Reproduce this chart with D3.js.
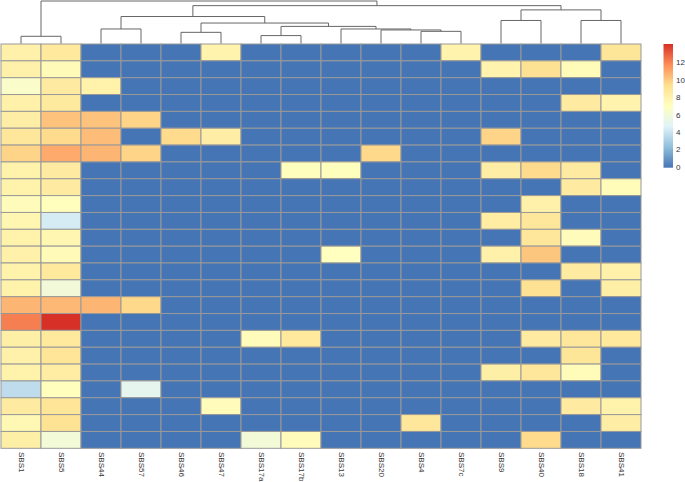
<!DOCTYPE html>
<html>
<head>
<meta charset="utf-8">
<script src="https://cdn.jsdelivr.net/npm/d3@7"></script>
<style>
  body { margin: 0; background: #fff; }
  text { font-family: "Liberation Sans", Arial, sans-serif; }
</style>
</head>
<body>
<svg id="chart" width="685" height="482"></svg>
<script>
// column order as drawn (after clustering)
var signatures = ["SBS1", "SBS5", "SBS44", "SBS57", "SBS46", "SBS47", "SBS17a", "SBS17b",
                  "SBS13", "SBS20", "SBS4", "SBS7c", "SBS9", "SBS40", "SBS18", "SBS41"]

// one row per sample, values in signature order
var rowValues = [
  [8.2, 8.8, 0, 0, 0, 8.0, 0, 0, 0, 0, 0, 8.0, 0, 0, 0, 9.0],
  [8.2, 7.5, 0, 0, 0, 0, 0, 0, 0, 0, 0, 0, 8.0, 9.3, 7.4, 0],
  [6.7, 8.6, 8.1, 0, 0, 0, 0, 0, 0, 0, 0, 0, 0, 0, 0, 0],
  [8.2, 8.7, 0, 0, 0, 0, 0, 0, 0, 0, 0, 0, 0, 0, 8.6, 8.0],
  [8.4, 10.3, 10.3, 9.8, 0, 0, 0, 0, 0, 0, 0, 0, 0, 0, 0, 0],
  [8.9, 9.6, 10.5, 0, 9.6, 8.4, 0, 0, 0, 0, 0, 0, 9.8, 0, 0, 0],
  [9.8, 11.0, 10.7, 9.8, 0, 0, 0, 0, 0, 9.7, 0, 0, 0, 0, 0, 0],
  [8.1, 8.6, 0, 0, 0, 0, 0, 7.2, 7.2, 0, 0, 0, 8.4, 9.6, 8.6, 0],
  [8.1, 8.6, 0, 0, 0, 0, 0, 0, 0, 0, 0, 0, 0, 0, 8.6, 7.4],
  [7.3, 7.2, 0, 0, 0, 0, 0, 0, 0, 0, 0, 0, 0, 8.2, 0, 0],
  [7.8, 4.4, 0, 0, 0, 0, 0, 0, 0, 0, 0, 0, 8.5, 8.9, 0, 0],
  [8.1, 7.8, 0, 0, 0, 0, 0, 0, 0, 0, 0, 0, 0, 8.9, 7.3, 0],
  [8.2, 7.5, 0, 0, 0, 0, 0, 0, 7.1, 0, 0, 0, 8.2, 10.2, 0, 0],
  [8.1, 8.8, 0, 0, 0, 0, 0, 0, 0, 0, 0, 0, 0, 0, 8.6, 8.2],
  [8.1, 6.0, 0, 0, 0, 0, 0, 0, 0, 0, 0, 0, 0, 9.3, 0, 8.3],
  [10.7, 10.6, 10.7, 9.7, 0, 0, 0, 0, 0, 0, 0, 0, 0, 0, 0, 0],
  [12.2, 14.2, 0, 0, 0, 0, 0, 0, 0, 0, 0, 0, 0, 0, 0, 0],
  [8.3, 8.8, 0, 0, 0, 0, 7.3, 8.8, 0, 0, 0, 0, 0, 8.6, 8.9, 8.8],
  [8.2, 9.1, 0, 0, 0, 0, 0, 0, 0, 0, 0, 0, 0, 0, 9.0, 0],
  [8.1, 8.5, 0, 0, 0, 0, 0, 0, 0, 0, 0, 0, 8.3, 8.9, 7.4, 0],
  [3.7, 7.2, 0, 5.2, 0, 0, 0, 0, 0, 0, 0, 0, 0, 0, 0, 0],
  [8.6, 9.1, 0, 0, 0, 7.3, 0, 0, 0, 0, 0, 0, 0, 0, 8.6, 8.1],
  [7.6, 9.2, 0, 0, 0, 0, 0, 0, 0, 0, 8.9, 0, 0, 0, 0, 8.4],
  [8.3, 6.1, 0, 0, 0, 0, 6.1, 7.3, 0, 0, 0, 0, 0, 9.6, 0, 0]
]

// column dendrogram, merge heights
var colTree = {h: 43, children: [
  {h: 7.3, children: [{name: "SBS1"}, {name: "SBS5"}]},
  {h: 38.3, children: [
    {h: 27.3, children: [
      {h: 14.7, children: [{name: "SBS44"}, {name: "SBS57"}]},
      {h: 20.7, children: [
        {h: 11.3, children: [{name: "SBS46"}, {name: "SBS47"}]},
        {h: 17.3, children: [
          {h: 8, children: [{name: "SBS17a"}, {name: "SBS17b"}]},
          {h: 14.7, children: [
            {name: "SBS13"},
            {h: 13.7, children: [
              {name: "SBS20"},
              {h: 12.3, children: [{name: "SBS4"}, {name: "SBS7c"}]}
            ]}
          ]}
        ]}
      ]}
    ]},
    {h: 34, children: [
      {h: 23.3, children: [{name: "SBS9"}, {name: "SBS40"}]},
      {h: 23.3, children: [{name: "SBS18"}, {name: "SBS41"}]}
    ]}
  ]}
]}

var legendTicks = [0, 2, 4, 6, 8, 10, 12]
var maxValue = 14.2
var palette = ["#4575B4", "#91BFDB", "#E0F3F8", "#FFFFBF", "#FEE090", "#FC8D59", "#D73027"]

var svg = d3.select("#chart")

var x = d3.scaleBand().domain(signatures).range([1, 641])
var y = d3.scaleBand().domain(d3.range(rowValues.length)).range([44, 448.3])
var color = d3.scaleLinear()
              .domain(palette.map(function(d, i) { return i * maxValue / (palette.length - 1) }))
              .range(palette)
              .interpolate(d3.interpolateRgb)
              .clamp(true)

// cells
var rows = svg.append("g").selectAll("g")
              .data(rowValues)
              .enter()
              .append("g")

rows.selectAll("rect")
    .data(function(d, i) { return d.map(function(v, j) { return {row: i, col: signatures[j], value: v} }) })
    .enter()
    .append("rect")
    .attr("x", function(d) { return x(d.col) })
    .attr("y", function(d) { return y(d.row) })
    .attr("width", x.bandwidth())
    .attr("height", y.bandwidth())
    .attr("fill", function(d) { return color(d.value) })
    .attr("stroke", "#999")
    .attr("stroke-width", 1)

// dendrogram
var treeY = d3.scaleLinear().domain([0, 43]).range([43.5, 1])
var root = d3.hierarchy(colTree)
root.eachAfter(function(n) {
  if (!n.children) {
    n.px = x(n.data.name) + x.bandwidth() / 2
    n.py = treeY(0)
  } else {
    n.px = d3.mean(n.children, function(c) { return c.px })
    n.py = treeY(n.data.h)
  }
})

var tree = svg.append("g")
              .attr("fill", "none")
              .attr("stroke", "#666")
              .attr("stroke-width", 1)

root.descendants().filter(function(n) { return n.children }).forEach(function(n) {
  var a = n.children[0], b = n.children[1]
  tree.append("path")
      .attr("d", "M" + a.px + "," + a.py + "V" + n.py + "H" + b.px + "V" + b.py)
})

// column labels
svg.append("g").selectAll("text")
   .data(signatures)
   .enter()
   .append("text")
   .attr("transform", function(d) { return "translate(" + (x(d) + x.bandwidth() / 2) + ",452) rotate(90)" })
   .attr("dominant-baseline", "middle")
   .attr("font-size", 8)
   .attr("fill", "#333")
   .text(function(d) { return d })

// legend
var legY = d3.scaleLinear().domain([0, maxValue]).range([167.7, 44])
var defs = svg.append("defs")
var grad = defs.append("linearGradient")
               .attr("id", "leg")
               .attr("x1", 0).attr("y1", 1).attr("x2", 0).attr("y2", 0)
grad.selectAll("stop")
    .data(palette)
    .enter()
    .append("stop")
    .attr("offset", function(d, i) { return i / (palette.length - 1) })
    .attr("stop-color", function(d) { return d })

svg.append("rect")
   .attr("x", 663.5)
   .attr("y", legY(maxValue))
   .attr("width", 9.5)
   .attr("height", legY(0) - legY(maxValue))
   .attr("fill", "url(#leg)")

svg.append("g").selectAll("text")
   .data(legendTicks)
   .enter()
   .append("text")
   .attr("x", 676)
   .attr("y", function(d) { return legY(d) })
   .attr("dominant-baseline", "middle")
   .attr("font-size", 8)
   .attr("fill", "#333")
   .text(function(d) { return d })
</script>
</body>
</html>
